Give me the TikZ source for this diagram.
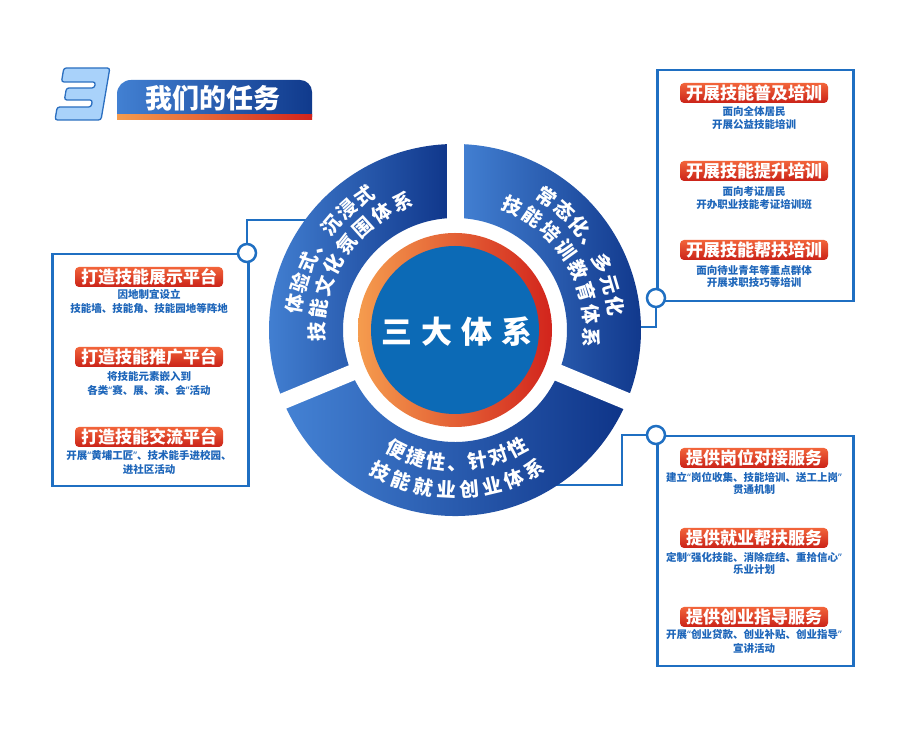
\documentclass[tikz,border=0pt]{standalone}
\usepackage{fontspec}
\setmainfont{Noto Sans CJK SC}
\newfontfamily\latinq{Noto Sans}
\newcommand\qo{{\latinq “}}
\newcommand\qc{{\latinq ”}}
\definecolor{boxblue}{RGB}{31,111,194}
\definecolor{txtblue}{RGB}{30,102,186}
\definecolor{segL}{RGB}{68,130,212}
\definecolor{segR}{RGB}{14,52,136}
\definecolor{lblT}{RGB}{242,100,58}
\definecolor{lblB}{RGB}{202,34,24}
\definecolor{ringO}{RGB}{245,156,78}
\definecolor{ringM}{RGB}{226,74,42}
\definecolor{ringR}{RGB}{210,36,28}
\definecolor{coreblue}{RGB}{12,106,182}
\definecolor{threefill}{RGB}{169,210,250}
\definecolor{threeline}{RGB}{43,111,192}
\definecolor{banL}{RGB}{66,128,210}
\definecolor{banR}{RGB}{16,58,140}
\newcommand\ringtext[6]{% name, radius, start, step, rot offset, list
  \foreach \ch [count=\i from 0] in {#6} {
    \node[arcch, rotate={#3+\i*(#4)+#5}] (#1-\i) at ({#3+\i*(#4)}:#2) {\ch};
  }}
\begin{document}
\begin{tikzpicture}[x=1pt,y=1pt,
  frame/.style={draw=boxblue, line width=2.5pt, inner sep=0pt, anchor=north west},
  conn/.style={draw=boxblue, line width=2pt},
  dot/.style={circle, draw=boxblue, fill=white, line width=2.5pt, minimum size=18pt, inner sep=0pt},
  lbl/.style={rounded corners=4pt, top color=lblT, bottom color=lblB, text=white,
    font=\bfseries\fontsize{17}{17}\selectfont, minimum width=148pt, minimum height=20pt, inner sep=0pt},
  sub/.style={text=txtblue, font=\bfseries\fontsize{10.5}{10.5}\selectfont, inner sep=0pt},
  arcch/.style={text=white, font=\bfseries\fontsize{19.5}{19.5}\selectfont, inner sep=0pt,
    text height=17.2pt, text depth=2.3pt},
  corech/.style={text=white, font=\bfseries\fontsize{31}{31}\selectfont, inner sep=0pt,
    text height=27.3pt, text depth=3.7pt},
]
\useasboundingbox (0,0) rectangle (900,735);
\fill[white] (0,0) rectangle (900,735);

% ---- title ----
\begin{scope}[shift={(55,615)}, xslant=0.17]
  \filldraw[fill=threefill, draw=threeline, line width=1.3pt, rounded corners=2.5pt]
    (0,52) -- (46,52) -- (46,0) -- (0,0) -- (0,13) -- (34,13) -- (34,20) -- (6,20)
    -- (6,32) -- (34,32) -- (34,38) -- (0,38) -- cycle;
\end{scope}
\shade[left color=banL, right color=banR]
  (117,618) -- (117,641) arc[start angle=180, end angle=90, radius=14]
  -- (300,655) arc[start angle=90, end angle=0, radius=12] -- (312,618) -- cycle;
\shade[left color=ringO, right color=ringR] (117,615) rectangle (312,620);
\node[text=white, font=\bfseries\fontsize{27}{27}\selectfont, inner sep=0pt] (title) at (213,637) {我们的任务};

% ---- connectors (under ring) ----
\coordinate (C) at (455,405);
\coordinate (eL) at (312,515);
\coordinate (eR1) at (634,408);
\coordinate (eR2) at (552,250);
\coordinate (kR2) at (622,250);

% ---- boxes ----
\node[frame, minimum width=196pt, minimum height=232pt] (boxL) at (51,482) {};
\node[frame, minimum width=196pt, minimum height=231pt] (boxR1) at (656,666) {};
\node[frame, minimum width=196pt, minimum height=230pt] (boxR2) at (656,300) {};

\node[dot] (dL) at (247,482) {};
\node[dot] (dR1) at (656,437) {};
\node[dot] (dR2) at (656,300) {};

\draw[conn] (eL) -| (dL);
\draw[conn] (eR1) -| (dR1);
\draw[conn] (eR2) -- (kR2) |- (dR2);

% ---- ring ----
\begin{scope}[shift={(455,405)}]
  \shade[left color=segL, right color=segR]
    (90:186) arc[start angle=90, end angle=202.5, radius=186]
    -- (202.5:112) arc[start angle=202.5, end angle=90, radius=112] -- cycle;
  \shade[left color=segL, right color=segR]
    (-22.5:186) arc[start angle=-22.5, end angle=90, radius=186]
    -- (90:112) arc[start angle=90, end angle=-22.5, radius=112] -- cycle;
  \shade[left color=segL, right color=segR]
    (202.5:186) arc[start angle=202.5, end angle=337.5, radius=186]
    -- (337.5:112) arc[start angle=337.5, end angle=202.5, radius=112] -- cycle;
  \draw[white, line width=17pt] (90:100) -- (90:195);
  \draw[white, line width=16pt] (202.5:100) -- (202.5:195);
  \draw[white, line width=17pt] (337.5:100) -- (337.5:195);
  \shade[left color=ringO, middle color=ringM, right color=ringR] (0,0) circle[radius=97];
  \fill[coreblue] (0,0) circle[radius=84];

  \ringtext{tla}{162}{170.8}{-7.78}{-90}{体,验,式,、,沉,浸,式}
  \ringtext{tlb}{138}{180.7}{-9.76}{-90}{技,能,文,化,氛,围,体,系}
  \ringtext{tra}{162}{55.3}{-7.78}{-90}{常,态,化,、,多,元,化}
  \ringtext{trb}{137}{65.3}{-9.8}{-90}{技,能,培,训,教,育,体,系}
  \ringtext{bta}{133}{243.8}{9.05}{90}{便,捷,性,、,针,对,性}
  \ringtext{btb}{160}{242.2}{8.24}{90}{技,能,就,业,创,业,体,系}

  \node[corech] (c1) at (-58,-2) {三};
  \node[corech] (c2) at (-18,-2) {大};
  \node[corech] (c3) at (22,-2) {体};
  \node[corech] (c4) at (62,-2) {系};
\end{scope}

% ---- left box content ----
\node[lbl] (l1) at (149,458) {打造技能展示平台};
\node[sub] (l1a) at (149,441) {因地制宜设立};
\node[sub] (l1b) at (149,426) {技能墙、技能角、技能园地等阵地};
\node[lbl] (l2) at (149,378) {打造技能推广平台};
\node[sub] (l2a) at (149,358) {将技能元素嵌入到};
\node[sub] (l2b) at (149,345) {各类\qo 赛、展、演、会\qc 活动};
\node[lbl] (l3) at (149,298) {打造技能交流平台};
\node[sub] (l3a) at (149,280) {开展\qo 黄埔工匠\qc 、技术能手进校园、};
\node[sub] (l3b) at (149,265) {进社区活动};

% ---- right top box content ----
\node[lbl] (r1) at (754,642) {开展技能普及培训};
\node[sub] (r1a) at (754,623) {面向全体居民};
\node[sub] (r1b) at (754,610) {开展公益技能培训};
\node[lbl] (r2) at (754,564) {开展技能提升培训};
\node[sub] (r2a) at (754,543) {面向考证居民};
\node[sub] (r2b) at (754,530) {开办职业技能考证培训班};
\node[lbl] (r3) at (754,485) {开展技能帮扶培训};
\node[sub] (r3a) at (754,465) {面向待业青年等重点群体};
\node[sub] (r3b) at (754,452) {开展求职技巧等培训};

% ---- right bottom box content ----
\node[lbl] (s1) at (754,277) {提供岗位对接服务};
\node[sub] (s1a) at (754,258) {建立\qo 岗位收集、技能培训、送工上岗\qc};
\node[sub] (s1b) at (754,245) {贯通机制};
\node[lbl] (s2) at (754,197) {提供就业帮扶服务};
\node[sub] (s2a) at (754,178) {定制\qo 强化技能、消除症结、重拾信心\qc};
\node[sub] (s2b) at (754,165) {乐业计划};
\node[lbl] (s3) at (754,118) {提供创业指导服务};
\node[sub] (s3a) at (754,100) {开展\qo 创业贷款、创业补贴、创业指导\qc};
\node[sub] (s3b) at (754,87) {宣讲活动};
\end{tikzpicture}
\end{document}
